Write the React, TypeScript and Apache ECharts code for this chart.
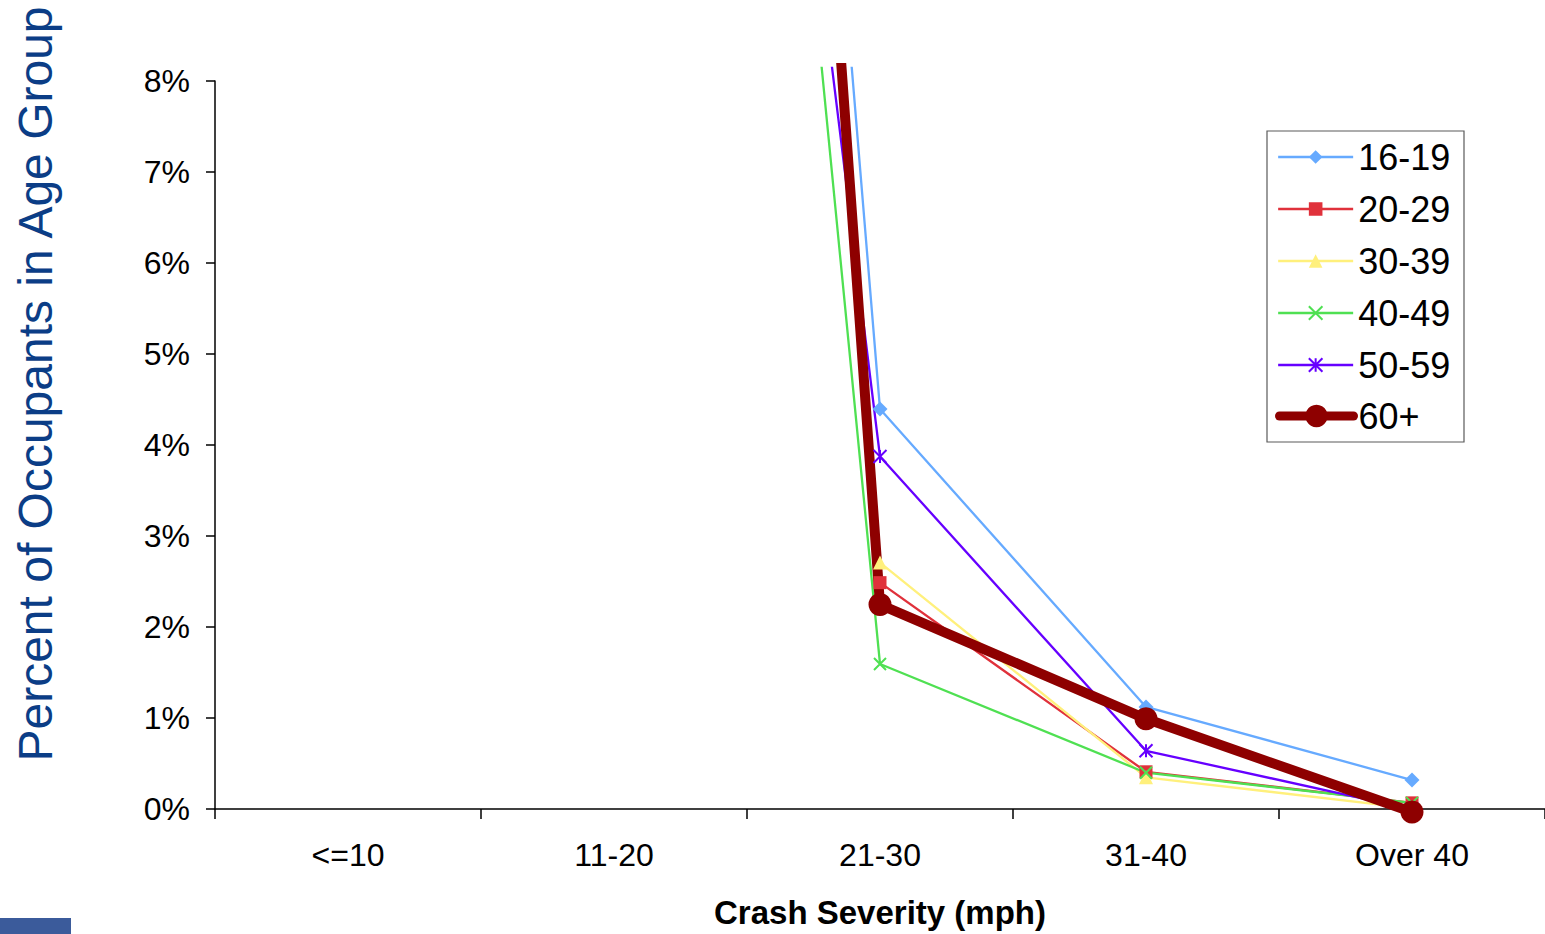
import { useEffect, useRef } from 'react';
import * as echarts from 'echarts';

// Crash severity bands (x axis)
const categories = ['<=10', '11-20', '21-30', '31-40', 'Over 40'];

// Occupant age groups (one line each)
const ageGroups = ['16-19', '20-29', '30-39', '40-49', '50-59', '60+'];

// Percent of occupants in each age group, per crash severity band
const pct16to19 = [54.5, 39.6, 4.41, 1.15, 0.35];
const pct20to29 = [55.0, 42.0, 2.51, 0.44, 0.1];
const pct30to39 = [58.0, 38.8, 2.73, 0.38, 0.04];
const pct40to49 = [66.4, 31.4, 1.62, 0.43, 0.1];
const pct50to59 = [67.9, 27.5, 3.89, 0.67, 0.03];
const pct60plus = [53.8, 42.9, 2.27, 1.02, 0.0];

const groupValues = [pct16to19, pct20to29, pct30to39, pct40to49, pct50to59, pct60plus];

// Y axis tick range (percent)
const yMin = 0;
const yMax = 8;
const yStep = 1;

const FONT = '"Liberation Sans", Arial, Helvetica, sans-serif';
const WIDTH = 1545;
const HEIGHT = 934;
const PLOT_LEFT = 215;
const PLOT_RIGHT = 0;
const AXIS_TOP = 81;
const CLIP_TOP = 68;
const AXIS_BOTTOM = 812;

// The lines are allowed to run a little above the top tick before clipping
const clipMax = yMax * (AXIS_BOTTOM - CLIP_TOP) / (AXIS_BOTTOM - AXIS_TOP);

const X_PATH = 'path://M0,0L12,12M12,0L0,12';
const STAR_PATH = 'path://M0,0L12,12M12,0L0,12M6,0L6,12';

const seriesLook = [
  { color: '#66AAFF', symbol: 'diamond', size: 15, width: 2.3, stroke: false },
  { color: '#E0313B', symbol: 'rect', size: 13, width: 2.3, stroke: false },
  { color: '#FFF07C', symbol: 'triangle', size: 14, width: 2.3, stroke: false },
  { color: '#4FE052', symbol: X_PATH, size: 12, width: 2.3, stroke: true },
  { color: '#6600FF', symbol: STAR_PATH, size: 13, width: 2.3, stroke: true },
  { color: '#8E0000', symbol: 'circle', size: 23, width: 10, stroke: false },
];

export default function App() {
  const ref = useRef<HTMLDivElement>(null);

  useEffect(() => {
    document.body.style.margin = '0';
    const chart = echarts.init(ref.current!, null, { renderer: 'svg' });

    const series = ageGroups.map((name, i) => {
      const look = seriesLook[i];
      return {
        name,
        type: 'line',
        xAxisIndex: 1,
        yAxisIndex: 1,
        data: groupValues[i],
        symbol: look.symbol,
        symbolSize: look.size,
        showAllSymbol: true,
        clip: true,
        color: look.color,
        lineStyle: {
          color: look.color,
          width: look.width,
          cap: look.width > 4 ? 'round' : 'butt',
          join: 'round',
        },
        itemStyle: look.stroke
          ? { color: look.color, borderColor: look.color, borderWidth: 2 }
          : { color: look.color },
        emphasis: { disabled: true },
      };
    });

    const legendText = { fontSize: 36, color: '#000', fontFamily: FONT, lineHeight: 36 };

    chart.setOption({
      animation: false,
      backgroundColor: '#ffffff',
      textStyle: { fontFamily: FONT },
      grid: [
        { left: PLOT_LEFT, right: PLOT_RIGHT, top: AXIS_TOP, bottom: HEIGHT - AXIS_BOTTOM },
        { left: PLOT_LEFT, right: PLOT_RIGHT, top: CLIP_TOP, bottom: HEIGHT - AXIS_BOTTOM },
      ],
      xAxis: [
        {
          type: 'category',
          gridIndex: 0,
          data: categories,
          axisLine: { show: true, lineStyle: { color: '#000', width: 1.5 } },
          axisTick: { show: true, length: 10, lineStyle: { color: '#000', width: 1.5 } },
          axisLabel: { fontSize: 32, color: '#000', margin: 30, fontFamily: FONT },
          splitLine: { show: false },
          name: 'Crash Severity (mph)',
          nameLocation: 'middle',
          nameGap: 87,
          nameTextStyle: { fontSize: 33, fontWeight: 'bold', color: '#000', fontFamily: FONT },
        },
        {
          type: 'category',
          gridIndex: 1,
          data: categories,
          show: false,
        },
      ],
      yAxis: [
        {
          type: 'value',
          gridIndex: 0,
          min: yMin,
          max: yMax,
          interval: yStep,
          axisLine: { show: true, lineStyle: { color: '#000', width: 1.5 } },
          axisTick: { show: true, length: 9, lineStyle: { color: '#000', width: 1.5 } },
          axisLabel: { formatter: '{value}%', fontSize: 32, color: '#000', margin: 25, fontFamily: FONT },
          splitLine: { show: false },
        },
        {
          type: 'value',
          gridIndex: 1,
          min: yMin,
          max: clipMax,
          show: false,
          splitLine: { show: false },
        },
      ],
      legend: [
        {
          data: ageGroups.slice(0, 5),
          orient: 'vertical',
          left: 1277,
          top: 139,
          padding: 0,
          itemWidth: 75,
          itemHeight: 17,
          itemGap: 16,
          selectedMode: false,
          textStyle: legendText,
          lineStyle: { width: 2.3 },
          z: 5,
        },
        {
          data: ageGroups.slice(5),
          orient: 'vertical',
          left: 1275,
          top: 398,
          padding: 0,
          itemWidth: 74,
          itemHeight: 28,
          itemGap: 16,
          selectedMode: false,
          textStyle: legendText,
          lineStyle: { width: 9, cap: 'round' },
          z: 5,
        },
      ],
      graphic: [
        {
          type: 'rect',
          z: 1,
          shape: { x: 1267, y: 131, width: 197, height: 311 },
          style: { fill: '#ffffff', stroke: '#5a5a5a', lineWidth: 1.2 },
        },
        {
          type: 'text',
          x: 35,
          y: 384,
          rotation: Math.PI / 2,
          style: {
            text: 'Percent of Occupants in Age Group',
            fontSize: 48,
            fontFamily: FONT,
            fill: '#0B3D86',
            align: 'center',
            verticalAlign: 'middle',
          },
        },
        {
          type: 'rect',
          shape: { x: 0, y: 918, width: 71, height: 16 },
          style: { fill: '#3B5B9B' },
        },
      ],
      series,
    });

    return () => chart.dispose();
  }, []);

  return <div ref={ref} style={{ width: WIDTH, height: HEIGHT }} />;
}
